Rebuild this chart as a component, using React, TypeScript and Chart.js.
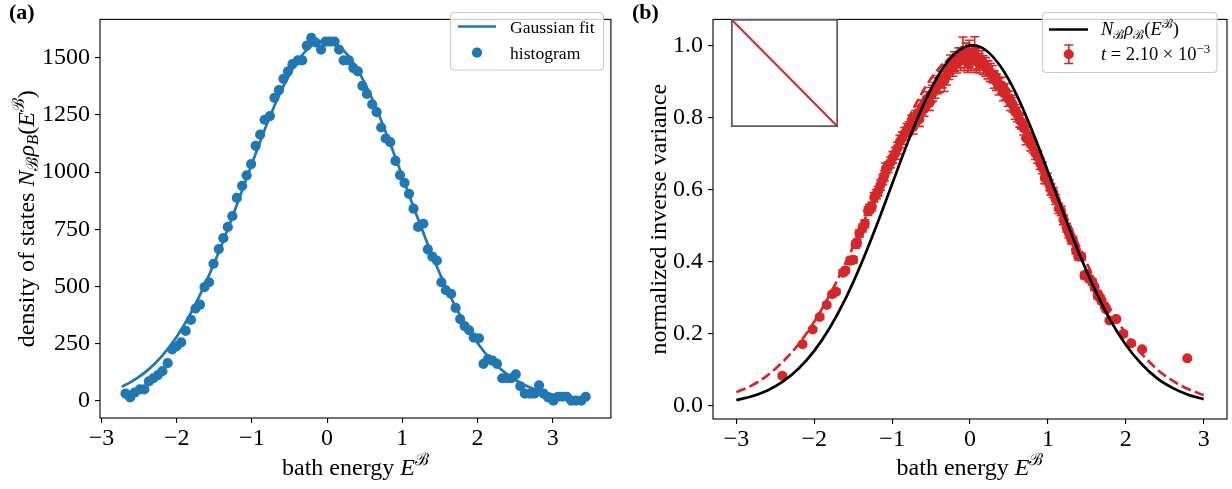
import React, { useEffect, useRef } from 'react';
import { Chart, registerables } from 'chart.js';

Chart.register(...registerables);

const BLUE = '#1f77b4';
const RED = '#d62728';
const SERIF = '"Liberation Serif", "DejaVu Serif", serif';

// ---------- panel (a): density of states ----------
const HIST_E = [
  -2.68, -2.62, -2.56, -2.49, -2.43, -2.37, -2.31, -2.25, -2.19, -2.12,
  -2.06, -2.0, -1.94, -1.88, -1.81, -1.75, -1.69, -1.63, -1.57, -1.51,
  -1.44, -1.38, -1.32, -1.26, -1.2, -1.13, -1.07, -1.01, -0.95, -0.89,
  -0.83, -0.76, -0.7, -0.64, -0.58, -0.52, -0.46, -0.39, -0.33, -0.27,
  -0.21, -0.15, -0.08, -0.02, 0.04, 0.1, 0.16, 0.22, 0.29, 0.35,
  0.41, 0.47, 0.53, 0.6, 0.66, 0.72, 0.78, 0.84, 0.91, 0.97,
  1.03, 1.09, 1.15, 1.21, 1.28, 1.34, 1.4, 1.46, 1.52, 1.58,
  1.65, 1.71, 1.77, 1.83, 1.89, 1.95, 2.02, 2.08, 2.14, 2.2,
  2.26, 2.33, 2.39, 2.45, 2.51, 2.57, 2.63, 2.7, 2.76, 2.82,
  2.88, 2.94, 3.01, 3.07, 3.13, 3.19, 3.25, 3.31, 3.38, 3.44,
];
const HIST_N = [
  31, 14, 35, 49, 49, 84, 98, 112, 129, 164,
  224, 238, 255, 305, 353, 403, 420, 497, 518, 599,
  663, 711, 760, 807, 887, 940, 986, 1035, 1115, 1164,
  1229, 1245, 1325, 1359, 1408, 1441, 1472, 1489, 1489, 1553,
  1587, 1567, 1536, 1571, 1571, 1571, 1536, 1489, 1489, 1455,
  1441, 1377, 1342, 1296, 1262, 1195, 1147, 1131, 1049, 987,
  953, 905, 840, 760, 774, 662, 630, 613, 518, 483,
  467, 406, 357, 326, 308, 276, 273, 161, 182, 175,
  161, 98, 98, 98, 115, 63, 31, 31, 31, 67,
  31, 14, 0, 17, 17, 17, 0, 0, 0, 17,
];
const FIT_E = [
  -2.73, -2.6, -2.4, -2.2, -2.0, -1.8, -1.6, -1.4, -1.2, -1.0, -0.8, -0.6, -0.4, -0.2, -0.03,
  0.2, 0.4, 0.6, 0.8, 1.0, 1.2, 1.4, 1.6, 1.8, 2.0, 2.2, 2.4, 2.6, 2.8, 3.0, 3.2, 3.44,
];
const FIT_N = [
  61, 83, 129, 194, 280, 391, 526, 683, 857, 1036, 1210, 1363, 1482, 1555, 1575,
  1538, 1451, 1320, 1159, 982, 803, 634, 483, 355, 252, 172, 114, 73, 45, 27, 15, 7,
];
const TICKS_A_X = [-3, -2, -1, 0, 1, 2, 3];
const TICKS_A_Y = [0, 250, 500, 750, 1000, 1250, 1500];

// ---------- panel (b): normalized inverse variance ----------
const NORM_E = [
  -3, -2.8, -2.6, -2.4, -2.2, -2, -1.8, -1.6, -1.4, -1.2, -1, -0.8, -0.6, -0.4, -0.2,
  0.03, 0.2, 0.4, 0.6, 0.8, 1, 1.2, 1.4, 1.6, 1.8, 2, 2.2, 2.4, 2.6, 2.8, 3,
];
const NORM_V = [
  0.015, 0.026, 0.042, 0.067, 0.103, 0.152, 0.216, 0.296, 0.392, 0.5, 0.615, 0.73, 0.834, 0.919, 0.976,
  1.0, 0.987, 0.939, 0.862, 0.762, 0.65, 0.534, 0.423, 0.324, 0.238, 0.169, 0.116, 0.076, 0.049, 0.03, 0.018,
];
const DASH_E = [
  -3, -2.8, -2.6, -2.4, -2.2, -2, -1.8, -1.6, -1.4, -1.2, -1, -0.8, -0.6, -0.4, -0.2,
  -0.05, 0.2, 0.4, 0.6, 0.8, 1, 1.2, 1.4, 1.6, 1.8, 2, 2.2, 2.4, 2.6, 2.8, 3,
];
const DASH_V = [
  0.037, 0.056, 0.084, 0.122, 0.171, 0.233, 0.308, 0.395, 0.492, 0.594, 0.697, 0.792, 0.874, 0.936, 0.972,
  0.98, 0.957, 0.908, 0.835, 0.746, 0.646, 0.543, 0.443, 0.35, 0.269, 0.2, 0.145, 0.101, 0.069, 0.046, 0.029,
];
const T_E = [
  -2.41, -2.15, -2.02, -1.93, -1.84, -1.77, -1.72, -1.63, -1.6, -1.54,
  -1.5, -1.47, -1.45, -1.42, -1.38, -1.35, -1.31, -1.29, -1.26, -1.23,
  -1.2, -1.18, -1.15, -1.12, -1.1, -1.08, -1.05, -1.02, -0.99, -0.96,
  -0.93, -0.9, -0.87, -0.84, -0.81, -0.78, -0.75, -0.73, -0.7, -0.67,
  -0.65, -0.62, -0.59, -0.56, -0.52, -0.5, -0.48, -0.45, -0.42, -0.39,
  -0.36, -0.33, -0.3, -0.27, -0.25, -0.22, -0.2, -0.17, -0.14, -0.12,
  -0.09, -0.07, -0.05, -0.03, -0.01, 0.01, 0.03, 0.06, 0.08, 0.1,
  0.12, 0.15, 0.17, 0.2, 0.23, 0.26, 0.29, 0.31, 0.34, 0.37,
  0.4, 0.43, 0.46, 0.49, 0.52, 0.55, 0.58, 0.61, 0.64, 0.66,
  0.69, 0.72, 0.75, 0.78, 0.81, 0.84, 0.87, 0.9, 0.93, 0.96,
  0.99, 1.02, 1.04, 1.07, 1.1, 1.14, 1.17, 1.2, 1.24, 1.27,
  1.3, 1.32, 1.36, 1.39, 1.43, 1.47, 1.5, 1.53, 1.57, 1.6,
  1.64, 1.67, 1.69, 1.73, 1.75, 1.79, 1.88, 1.97, 2.07, 2.21,
  2.79,
];
const T_V = [
  0.083, 0.17, 0.211, 0.246, 0.279, 0.309, 0.316, 0.369, 0.375, 0.402,
  0.405, 0.447, 0.452, 0.478, 0.493, 0.505, 0.54, 0.547, 0.552, 0.578,
  0.587, 0.595, 0.612, 0.627, 0.638, 0.658, 0.662, 0.675, 0.689, 0.7,
  0.715, 0.733, 0.742, 0.755, 0.765, 0.77, 0.788, 0.773, 0.8, 0.812,
  0.795, 0.828, 0.823, 0.85, 0.84, 0.862, 0.867, 0.875, 0.888, 0.892,
  0.905, 0.902, 0.915, 0.93, 0.947, 0.94, 0.955, 0.95, 0.965, 0.958,
  0.985, 0.962, 0.972, 0.955, 0.978, 0.96, 0.968, 0.986, 0.955, 0.962,
  0.95, 0.958, 0.945, 0.94, 0.932, 0.925, 0.92, 0.905, 0.898, 0.885,
  0.889, 0.868, 0.872, 0.852, 0.84, 0.835, 0.815, 0.808, 0.792, 0.787,
  0.77, 0.742, 0.748, 0.725, 0.718, 0.7, 0.69, 0.672, 0.66, 0.632,
  0.63, 0.612, 0.6, 0.591, 0.572, 0.547, 0.54, 0.515, 0.494, 0.478,
  0.462, 0.458, 0.432, 0.414, 0.413, 0.361, 0.365, 0.352, 0.343, 0.328,
  0.305, 0.299, 0.29, 0.275, 0.267, 0.236, 0.24, 0.199, 0.173, 0.156,
  0.131,
];
const T_ERR = [
  0.004, 0.005, 0.005, 0.006, 0.006, 0.007, 0.007, 0.008, 0.008, 0.009,
  0.009, 0.01, 0.01, 0.01, 0.011, 0.011, 0.012, 0.012, 0.012, 0.013,
  0.013, 0.013, 0.014, 0.014, 0.014, 0.015, 0.015, 0.015, 0.016, 0.016,
  0.016, 0.017, 0.017, 0.017, 0.018, 0.018, 0.018, 0.019, 0.019, 0.019,
  0.02, 0.02, 0.02, 0.021, 0.021, 0.021, 0.022, 0.022, 0.022, 0.023,
  0.023, 0.03, 0.025, 0.025, 0.026, 0.026, 0.027, 0.027, 0.028, 0.028,
  0.038, 0.032, 0.034, 0.03, 0.036, 0.03, 0.033, 0.038, 0.03, 0.031,
  0.027, 0.027, 0.026, 0.026, 0.025, 0.025, 0.024, 0.024, 0.023, 0.023,
  0.022, 0.022, 0.022, 0.021, 0.021, 0.02, 0.02, 0.02, 0.019, 0.019,
  0.019, 0.018, 0.018, 0.018, 0.017, 0.017, 0.017, 0.016, 0.016, 0.016,
  0.015, 0.015, 0.015, 0.014, 0.014, 0.014, 0.013, 0.013, 0.012, 0.012,
  0.012, 0.011, 0.011, 0.01, 0.01, 0.009, 0.009, 0.009, 0.008, 0.008,
  0.008, 0.007, 0.007, 0.007, 0.006, 0.006, 0.005, 0.005, 0.004, 0.004,
  0.003,
];
const TICKS_B_X = [-3, -2, -1, 0, 1, 2, 3];
const TICKS_B_Y = [0, 0.2, 0.4, 0.6, 0.8, 1.0];

// inset: a single diagonal segment in unit coordinates
const INSET_X = [0, 1];
const INSET_Y = [1, 0];

// ---------- rich text (italic / sub / superscript runs) ----------
type Run = { t: string; it?: boolean; bold?: boolean; sub?: boolean; sup?: boolean };

function runFont(r: Run, size: number) {
  const s = r.sub || r.sup ? size * 0.7 : size;
  return `${r.it ? 'italic ' : ''}${r.bold ? 'bold ' : ''}${s}px ${SERIF}`;
}

function drawRuns(
  ctx: CanvasRenderingContext2D,
  runs: Run[],
  x: number,
  y: number,
  size: number,
  align: 'left' | 'center'
) {
  let w = 0;
  for (const r of runs) {
    ctx.font = runFont(r, size);
    w += ctx.measureText(r.t).width;
  }
  let cx = align === 'center' ? x - w / 2 : x;
  ctx.textAlign = 'left';
  ctx.textBaseline = 'alphabetic';
  for (const r of runs) {
    ctx.font = runFont(r, size);
    const dy = r.sub ? size * 0.2 : r.sup ? -size * 0.4 : 0;
    ctx.fillText(r.t, cx, y + dy);
    cx += ctx.measureText(r.t).width;
  }
}

const X_TITLE: Run[] = [{ t: 'bath energy ' }, { t: 'E', it: true }, { t: 'ℬ', sup: true }];
const Y_TITLE_A: Run[] = [
  { t: 'density of states ' },
  { t: 'N', it: true },
  { t: 'ℬ', sub: true },
  { t: 'ρ', it: true },
  { t: 'B', it: true, sub: true },
  { t: '(' },
  { t: 'E', it: true },
  { t: 'ℬ', sup: true },
  { t: ')' },
];
const Y_TITLE_B: Run[] = [{ t: 'normalized inverse variance' }];
const LEGEND_B_LINE: Run[] = [
  { t: 'N', it: true },
  { t: 'ℬ', sub: true },
  { t: 'ρ', it: true },
  { t: 'ℬ', sub: true },
  { t: '(' },
  { t: 'E', it: true },
  { t: 'ℬ', sup: true },
  { t: ')' },
];
const LEGEND_B_POINTS: Run[] = [{ t: 't', it: true }, { t: ' = 2.10 × 10' }, { t: '−3', sup: true }];

const fmtInt = (v: number) => (v < 0 ? '\u2212' + Math.abs(v) : String(v));
const fmtOne = (v: number) => v.toFixed(1);

function linearAxis(
  min: number,
  max: number,
  ticks: number[],
  fmt: (v: number) => string,
  band: number,
  horizontal: boolean
) {
  return {
    type: 'linear' as const,
    min,
    max,
    afterBuildTicks: (s: any) => {
      s.ticks = ticks.map((value) => ({ value }));
    },
    afterFit: (s: any) => {
      if (horizontal) s.height = band;
      else s.width = band;
    },
    grid: {
      display: true,
      drawOnChartArea: false,
      drawTicks: true,
      tickLength: 5,
      tickWidth: 1.1,
      tickColor: '#000',
      color: '#000',
      lineWidth: 1.1,
    },
    border: { display: false },
    ticks: {
      color: '#000',
      font: { family: SERIF, size: 24 },
      padding: horizontal ? 1 : 5,
      autoSkip: false,
      maxRotation: 0,
      callback: (v: any) => fmt(Number(v)),
    },
  };
}

function legendFrame(ctx: CanvasRenderingContext2D, x: number, y: number, w: number, h: number) {
  const r = 4;
  ctx.beginPath();
  ctx.moveTo(x + r, y);
  ctx.lineTo(x + w - r, y);
  ctx.quadraticCurveTo(x + w, y, x + w, y + r);
  ctx.lineTo(x + w, y + h - r);
  ctx.quadraticCurveTo(x + w, y + h, x + w - r, y + h);
  ctx.lineTo(x + r, y + h);
  ctx.quadraticCurveTo(x, y + h, x, y + h - r);
  ctx.lineTo(x, y + r);
  ctx.quadraticCurveTo(x, y, x + r, y);
  ctx.closePath();
  ctx.fillStyle = 'rgba(255,255,255,0.8)';
  ctx.fill();
  ctx.strokeStyle = '#cccccc';
  ctx.lineWidth = 1.1;
  ctx.stroke();
}

function frame(ctx: CanvasRenderingContext2D, ca: any) {
  ctx.strokeStyle = '#000';
  ctx.lineWidth = 1.1;
  ctx.strokeRect(ca.left, ca.top, ca.right - ca.left, ca.bottom - ca.top);
}

const decorA = {
  id: 'decorA',
  afterDraw(chart: any) {
    const { ctx, chartArea: ca } = chart;
    ctx.save();
    frame(ctx, ca);
    legendFrame(ctx, 450.5, 12.5, 153, 57.5);
    ctx.strokeStyle = BLUE;
    ctx.lineWidth = 2.7;
    ctx.beginPath();
    ctx.moveTo(458, 26.5);
    ctx.lineTo(496, 26.5);
    ctx.stroke();
    ctx.fillStyle = BLUE;
    ctx.beginPath();
    ctx.arc(477, 52.7, 5.1, 0, Math.PI * 2);
    ctx.fill();
    ctx.fillStyle = '#000';
    drawRuns(ctx, [{ t: 'Gaussian fit' }], 510, 33, 17.6, 'left');
    drawRuns(ctx, [{ t: 'histogram' }], 510, 58.5, 17.6, 'left');
    drawRuns(ctx, X_TITLE, (ca.left + ca.right) / 2, 475, 24, 'center');
    drawRuns(ctx, [{ t: '(a)', bold: true }], 9, 19, 22, 'left');
    ctx.translate(33.5, (ca.top + ca.bottom) / 2);
    ctx.rotate(-Math.PI / 2);
    drawRuns(ctx, Y_TITLE_A, 0, 0, 24, 'center');
    ctx.restore();
  },
};

const errorBars = {
  id: 'errorBars',
  beforeDatasetDraw(chart: any, args: any) {
    if (args.index !== 2) return;
    const { ctx } = chart;
    const xs = chart.scales.x;
    const ys = chart.scales.y;
    ctx.save();
    ctx.strokeStyle = RED;
    ctx.lineWidth = 1.6;
    for (let i = 0; i < T_E.length; i++) {
      const px = xs.getPixelForValue(T_E[i]);
      const top = ys.getPixelForValue(T_V[i] + T_ERR[i]);
      const bot = ys.getPixelForValue(T_V[i] - T_ERR[i]);
      ctx.beginPath();
      ctx.moveTo(px, top);
      ctx.lineTo(px, bot);
      ctx.moveTo(px - 4.5, top);
      ctx.lineTo(px + 4.5, top);
      ctx.moveTo(px - 4.5, bot);
      ctx.lineTo(px + 4.5, bot);
      ctx.stroke();
    }
    ctx.restore();
  },
};

const decorB = {
  id: 'decorB',
  afterDraw(chart: any) {
    const { ctx, chartArea: ca } = chart;
    ctx.save();
    frame(ctx, ca);
    legendFrame(ctx, 426.5, 12.5, 174.5, 60);
    ctx.strokeStyle = '#000';
    ctx.lineWidth = 2.7;
    ctx.beginPath();
    ctx.moveTo(433, 29.5);
    ctx.lineTo(472, 29.5);
    ctx.stroke();
    ctx.strokeStyle = RED;
    ctx.lineWidth = 1.6;
    ctx.beginPath();
    ctx.moveTo(452.8, 45);
    ctx.lineTo(452.8, 63.5);
    ctx.moveTo(448.3, 45);
    ctx.lineTo(457.3, 45);
    ctx.moveTo(448.3, 63.5);
    ctx.lineTo(457.3, 63.5);
    ctx.stroke();
    ctx.fillStyle = RED;
    ctx.beginPath();
    ctx.arc(452.8, 54.3, 5, 0, Math.PI * 2);
    ctx.fill();
    ctx.fillStyle = '#000';
    drawRuns(ctx, LEGEND_B_LINE, 485, 35, 18.5, 'left');
    drawRuns(ctx, LEGEND_B_POINTS, 485, 60, 18.5, 'left');
    drawRuns(ctx, X_TITLE, (ca.left + ca.right) / 2, 475, 24, 'center');
    drawRuns(ctx, [{ t: '(b)', bold: true }], 16, 19, 22, 'left');
    ctx.translate(50, (ca.top + ca.bottom) / 2);
    ctx.rotate(-Math.PI / 2);
    drawRuns(ctx, Y_TITLE_B, 0, 0, 24, 'center');
    ctx.restore();
  },
};

const insetFrame = {
  id: 'insetFrame',
  beforeDraw(chart: any) {
    const { ctx, width, height } = chart;
    ctx.save();
    ctx.fillStyle = '#fff';
    ctx.fillRect(0, 0, width, height);
    ctx.restore();
  },
  afterDraw(chart: any) {
    const { ctx, width, height } = chart;
    ctx.save();
    ctx.strokeStyle = '#595959';
    ctx.lineWidth = 1.7;
    ctx.strokeRect(0.85, 0.85, width - 1.7, height - 1.7);
    ctx.restore();
  },
};

const common = {
  responsive: false,
  animation: false as const,
  events: [] as any[],
};

export default function App() {
  const aRef = useRef<HTMLCanvasElement>(null);
  const bRef = useRef<HTMLCanvasElement>(null);
  const iRef = useRef<HTMLCanvasElement>(null);

  useEffect(() => {
    const chartA = new Chart(aRef.current as HTMLCanvasElement, {
      type: 'scatter',
      data: {
        datasets: [
          {
            label: 'Gaussian fit',
            data: FIT_E.map((x, i) => ({ x, y: FIT_N[i] })),
            showLine: true,
            borderColor: BLUE,
            borderWidth: 2.7,
            pointRadius: 0,
            cubicInterpolationMode: 'monotone',
            order: 1,
          },
          {
            label: 'histogram',
            data: HIST_E.map((x, i) => ({ x, y: HIST_N[i] })),
            showLine: false,
            backgroundColor: BLUE,
            borderWidth: 0,
            pointRadius: 5.1,
            order: 0,
          },
        ],
      },
      options: {
        ...common,
        layout: { padding: { left: 0, right: 3, top: 3, bottom: 0 } },
        scales: {
          x: linearAxis(-3.02, 3.775, TICKS_A_X, fmtInt, 71, true),
          y: linearAxis(-76, 1668, TICKS_A_Y, fmtInt, 100, false),
        },
        plugins: { legend: { display: false }, tooltip: { enabled: false } },
      } as any,
      plugins: [decorA],
    });

    const chartB = new Chart(bRef.current as HTMLCanvasElement, {
      type: 'scatter',
      data: {
        datasets: [
          {
            label: 'NBρB(EB)',
            data: NORM_E.map((x, i) => ({ x, y: NORM_V[i] })),
            showLine: true,
            borderColor: '#000',
            borderWidth: 2.7,
            pointRadius: 0,
            cubicInterpolationMode: 'monotone',
            order: 0,
          },
          {
            label: 'fit',
            data: DASH_E.map((x, i) => ({ x, y: DASH_V[i] })),
            showLine: true,
            borderColor: RED,
            borderWidth: 2.7,
            borderDash: [10, 4.3],
            pointRadius: 0,
            cubicInterpolationMode: 'monotone',
            order: 1,
          },
          {
            label: 't = 2.10e-3',
            data: T_E.map((x, i) => ({ x, y: T_V[i] })),
            showLine: false,
            backgroundColor: RED,
            borderWidth: 0,
            pointRadius: 5,
            order: 2,
          },
        ],
      },
      options: {
        ...common,
        layout: { padding: { left: 0, right: 5, top: 3, bottom: 0 } },
        scales: {
          x: linearAxis(-3.3, 3.3, TICKS_B_X, fmtInt, 70, true),
          y: linearAxis(-0.0373, 1.072, TICKS_B_Y, fmtOne, 97, false),
        },
        plugins: { legend: { display: false }, tooltip: { enabled: false } },
      } as any,
      plugins: [errorBars, decorB],
    });

    const inset = new Chart(iRef.current as HTMLCanvasElement, {
      type: 'scatter',
      data: {
        datasets: [
          {
            data: INSET_X.map((x, i) => ({ x, y: INSET_Y[i] })),
            showLine: true,
            borderColor: RED,
            borderWidth: 2,
            pointRadius: 0,
          },
        ],
      },
      options: {
        ...common,
        layout: { padding: 0 },
        scales: {
          x: { type: 'linear', display: false, min: 0, max: 1 },
          y: { type: 'linear', display: false, min: 0, max: 1 },
        },
        plugins: { legend: { display: false }, tooltip: { enabled: false } },
      } as any,
      plugins: [insetFrame],
    });

    return () => {
      chartA.destroy();
      chartB.destroy();
      inset.destroy();
    };
  }, []);

  return (
    <div
      style={{
        position: 'absolute',
        left: 0,
        top: 0,
        width: 1232,
        height: 489,
        background: '#fff',
        overflow: 'hidden',
      }}
    >
      <canvas
        ref={aRef}
        width={616}
        height={489}
        style={{ position: 'absolute', left: 0, top: 0, width: 616, height: 489 }}
      />
      <canvas
        ref={bRef}
        width={616}
        height={489}
        style={{ position: 'absolute', left: 616, top: 0, width: 616, height: 489 }}
      />
      <canvas
        ref={iRef}
        width={107}
        height={108}
        style={{ position: 'absolute', left: 731, top: 19, width: 107, height: 108 }}
      />
    </div>
  );
}
